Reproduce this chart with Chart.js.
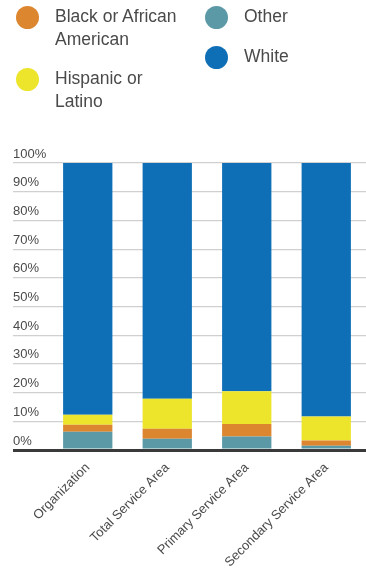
<!DOCTYPE html>
<html>
<head>
<meta charset="utf-8">
<script src="https://cdn.jsdelivr.net/npm/chart.js@4"></script>
<style>
  body { margin: 0; background: #fff; }
  #wrap { position: relative; width: 366px; height: 570px; }
  #legend { position: absolute; top: 5px; left: 0; font-family: "Liberation Sans", Arial, sans-serif; font-size: 17.5px; line-height: 23px; color: #4a4a4a; }
  .col { position: absolute; top: 0; }
  .item { display: flex; align-items: flex-start; margin-bottom: 16px; }
  .dot { width: 23px; height: 23px; border-radius: 50%; margin-top: 1px; flex: none; }
  .txt { margin-left: 16px; width: 130px; }
</style>
</head>
<body>
<div id="wrap">
  <div id="legend"></div>
  <canvas id="chart" width="366" height="570"></canvas>
</div>
<script>
const categories = ["Organization", "Total Service Area", "Primary Service Area", "Secondary Service Area"];

// percent of population (bottom to top)
const other = [6.4, 3.9, 4.7, 1.5];
const blackOrAfricanAmerican = [2.4, 3.5, 4.4, 1.8];
const hispanicOrLatino = [3.5, 10.5, 11.4, 8.4];
const white = [87.7, 82.1, 79.5, 88.3];

const seriesNames = ["Other", "Black or African American", "Hispanic or Latino", "White"];
const seriesColors = ["#5b99a7", "#dc862f", "#ece52b", "#0e6fb6"];
const seriesValues = [other, blackOrAfricanAmerican, hispanicOrLatino, white];

// legend order as in the picture: two columns, alphabetical
const legendColumns = [
  ["Black or African American", "Hispanic or Latino"],
  ["Other", "White"],
];
const legendColumnLeft = [16, 205];

const tickFont = { family: "'Liberation Sans', Arial, sans-serif", size: 13 };

const htmlLegend = {
  id: "htmlLegend",
  afterUpdate(chart) {
    const box = document.getElementById("legend");
    box.innerHTML = "";
    legendColumns.forEach((names, c) => {
      const col = document.createElement("div");
      col.className = "col";
      col.style.left = legendColumnLeft[c] + "px";
      names.forEach((name) => {
        const ds = chart.data.datasets.find((d) => d.label === name);
        const item = document.createElement("div");
        item.className = "item";
        const dot = document.createElement("span");
        dot.className = "dot";
        dot.style.background = ds.backgroundColor;
        const txt = document.createElement("span");
        txt.className = "txt";
        txt.textContent = ds.label;
        item.appendChild(dot);
        item.appendChild(txt);
        col.appendChild(item);
      });
      box.appendChild(col);
    });
  },
};

new Chart(document.getElementById("chart"), {
  type: "bar",
  data: {
    labels: categories,
    datasets: seriesNames.map((name, i) => ({
      label: name,
      data: seriesValues[i],
      backgroundColor: seriesColors[i],
      borderWidth: 0,
      categoryPercentage: 1,
      barPercentage: 0.62,
    })),
  },
  options: {
    responsive: false,
    animation: false,
    layout: { padding: { top: 163, left: 13, right: 0, bottom: 4 } },
    plugins: {
      legend: { display: false },
      tooltip: { enabled: false },
    },
    scales: {
      x: {
        stacked: true,
        grid: { display: false },
        border: { display: false },
        afterFit: (scale) => { scale.height = 116; },
        ticks: {
          color: "#4a4a4a",
          font: tickFont,
          minRotation: 45,
          maxRotation: 45,
          padding: 2,
        },
      },
      y: {
        stacked: true,
        min: 0,
        max: 100,
        border: { display: false },
        afterFit: (scale) => { scale.width = 35; },
        grid: {
          color: (ctx) => (ctx.tick && ctx.tick.value === 0 ? "#3a3a3a" : "#d0d0d0"),
          lineWidth: (ctx) => (ctx.tick && ctx.tick.value === 0 ? 3 : 1.2),
          tickLength: 35,
        },
        ticks: {
          stepSize: 10,
          color: "#4a4a4a",
          font: tickFont,
          crossAlign: "far",
          labelOffset: -9,
          callback: (v) => v + "%",
        },
      },
    },
  },
  plugins: [htmlLegend],
});
</script>
</body>
</html>
